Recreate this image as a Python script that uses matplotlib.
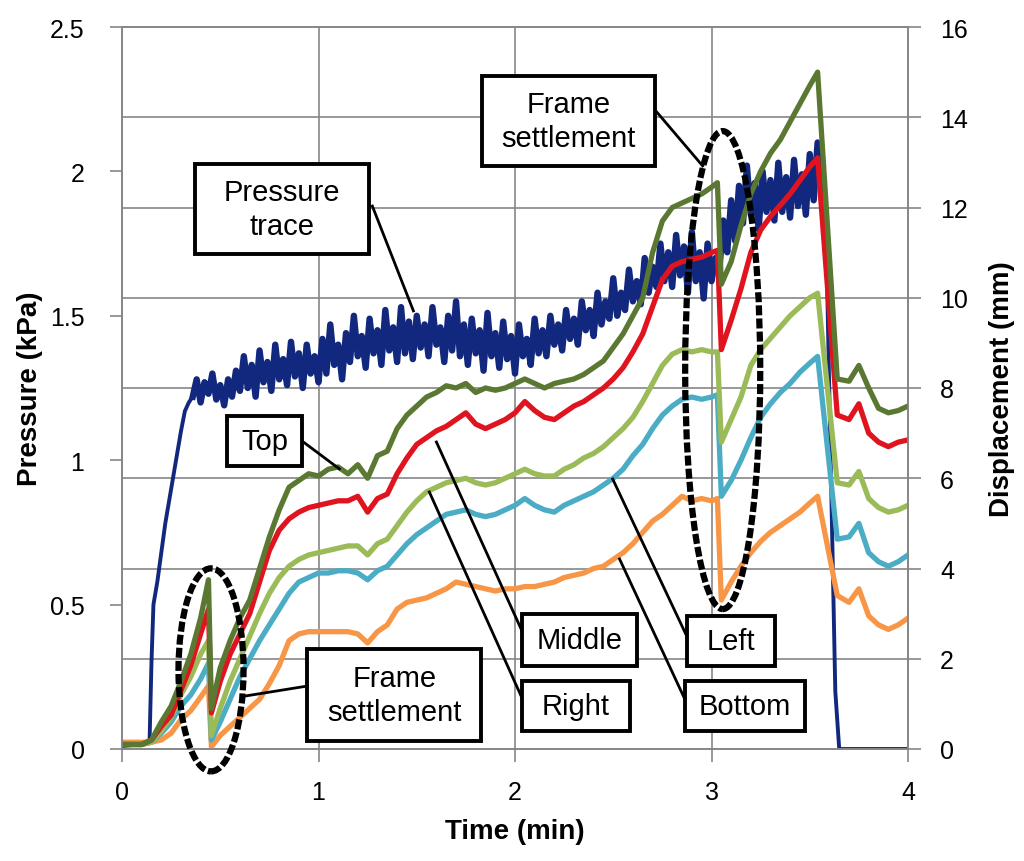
import numpy as np
import matplotlib
matplotlib.use("Agg")
import matplotlib.pyplot as plt
from matplotlib.patches import Ellipse, Rectangle

plt.rcParams['font.family'] = ['Liberation Sans', 'DejaVu Sans']

# displacement traces (mm)
t_disp = [0, 0.1, 0.15, 0.2, 0.25, 0.3, 0.35, 0.4, 0.44, 0.455,
          0.5, 0.55, 0.6, 0.65, 0.7, 0.75, 0.8, 0.85, 0.9, 0.95, 1.0,
          1.05, 1.1, 1.15, 1.2, 1.25, 1.3, 1.35, 1.4, 1.45, 1.5,
          1.55, 1.6, 1.65, 1.7, 1.75, 1.8, 1.85, 1.9, 1.95, 2.0,
          2.05, 2.1, 2.15, 2.2, 2.25, 2.3, 2.35, 2.4, 2.45, 2.5,
          2.55, 2.6, 2.65, 2.7, 2.75, 2.8, 2.85, 2.9, 2.95, 3.0,
          3.03, 3.05, 3.1, 3.15, 3.2, 3.25, 3.3, 3.35, 3.4, 3.45, 3.5,
          3.54, 3.64, 3.7, 3.75, 3.8, 3.85, 3.9, 3.95, 4.0]

top = [0.1, 0.1, 0.2, 0.6, 0.95, 1.5, 2.1, 2.9, 3.75, 0.9,
       1.8, 2.4, 2.9, 3.3, 4.0, 4.7, 5.3, 5.8, 5.95, 6.1, 6.05,
       6.2, 6.25, 6.1, 6.3, 6.0, 6.5, 6.6, 7.1, 7.4, 7.6,
       7.8, 7.9, 8.05, 8.0, 8.1, 7.9, 8.0, 7.95, 8.0, 8.1,
       8.2, 8.1, 8.0, 8.1, 8.15, 8.2, 8.3, 8.45, 8.6, 8.9,
       9.2, 9.6, 10.0, 11.0, 11.7, 12.0, 12.1, 12.2, 12.3, 12.45,
       12.55, 10.3, 10.8, 11.6, 12.3, 12.8, 13.2, 13.5, 13.9, 14.3, 14.7,
       15.0, 8.2, 8.15, 8.5, 8.0, 7.55, 7.45, 7.5, 7.6]

middle = [0.1, 0.1, 0.2, 0.5, 0.75, 1.3, 1.85, 2.55, 3.1, 0.8,
          1.5, 2.1, 2.55, 3.0, 3.7, 4.4, 4.85, 5.1, 5.25, 5.35, 5.4,
          5.45, 5.5, 5.5, 5.6, 5.25, 5.55, 5.65, 6.1, 6.45, 6.75,
          6.9, 7.05, 7.15, 7.3, 7.45, 7.2, 7.1, 7.2, 7.3, 7.45,
          7.7, 7.5, 7.35, 7.3, 7.45, 7.6, 7.7, 7.85, 8.0, 8.2,
          8.45, 8.8, 9.2, 9.8, 10.4, 10.7, 10.8, 10.85, 10.9, 11.0,
          11.05, 8.85, 9.5, 10.2, 11.0, 11.5, 11.8, 12.05, 12.3, 12.6, 12.9,
          13.1, 7.4, 7.3, 7.65, 7.0, 6.8, 6.7, 6.8, 6.85]

right = [0.1, 0.1, 0.15, 0.4, 0.7, 1.2, 1.6, 2.1, 2.4, 0.3,
         0.9, 1.5, 2.0, 2.5, 3.0, 3.45, 3.8, 4.05, 4.2, 4.3, 4.35,
         4.4, 4.45, 4.5, 4.5, 4.3, 4.55, 4.65, 4.95, 5.25, 5.5,
         5.7, 5.8, 5.9, 5.95, 6.0, 5.9, 5.85, 5.9, 6.0, 6.1,
         6.2, 6.1, 6.05, 6.05, 6.2, 6.3, 6.45, 6.55, 6.7, 6.9,
         7.1, 7.35, 7.7, 8.1, 8.5, 8.75, 8.85, 8.8, 8.85, 8.8,
         8.8, 6.8, 7.3, 7.8, 8.5, 8.85, 9.1, 9.35, 9.6, 9.8, 10.0,
         10.1, 5.9, 5.85, 6.15, 5.55, 5.35, 5.25, 5.3, 5.4]

left = [0.1, 0.1, 0.15, 0.35, 0.6, 0.95, 1.2, 1.55, 1.9, 0.2,
        0.6, 1.1, 1.6, 2.0, 2.4, 2.75, 3.1, 3.45, 3.7, 3.8, 3.9,
        3.9, 3.95, 3.95, 3.9, 3.75, 3.95, 4.05, 4.3, 4.55, 4.75,
        4.9, 5.05, 5.2, 5.25, 5.3, 5.2, 5.15, 5.2, 5.3, 5.4,
        5.55, 5.4, 5.3, 5.25, 5.4, 5.5, 5.6, 5.7, 5.85, 6.0,
        6.2, 6.5, 6.75, 7.1, 7.4, 7.6, 7.75, 7.8, 7.75, 7.8,
        7.85, 5.6, 5.95, 6.4, 6.9, 7.35, 7.65, 7.9, 8.1, 8.35, 8.55,
        8.7, 4.65, 4.7, 5.0, 4.35, 4.15, 4.05, 4.15, 4.3]

bottom = [0.15, 0.15, 0.15, 0.2, 0.35, 0.65, 0.85, 1.15, 1.4, 0.05,
          0.3, 0.5, 0.7, 0.9, 1.1, 1.45, 1.85, 2.4, 2.55, 2.6, 2.6,
          2.6, 2.6, 2.6, 2.55, 2.35, 2.6, 2.75, 3.1, 3.25, 3.3,
          3.35, 3.45, 3.55, 3.7, 3.65, 3.6, 3.55, 3.5, 3.55, 3.55,
          3.6, 3.6, 3.65, 3.7, 3.8, 3.85, 3.9, 4.0, 4.05, 4.2,
          4.35, 4.55, 4.8, 5.05, 5.2, 5.4, 5.6, 5.5, 5.55, 5.5,
          5.55, 3.3, 3.7, 4.05, 4.35, 4.6, 4.8, 4.95, 5.1, 5.25, 5.45,
          5.6, 3.4, 3.25, 3.55, 2.95, 2.75, 2.65, 2.75, 2.9]

# pressure trace (kPa)
t_p_start = [0, 0.14, 0.15, 0.16, 0.18, 0.20, 0.22, 0.25, 0.28, 0.30, 0.32, 0.34, 0.36]
p_start = [0.01, 0.02, 0.30, 0.50, 0.58, 0.68, 0.78, 0.90, 1.02, 1.10, 1.17, 1.20, 1.22]
# noisy part, one reading every 0.02 min from 0.36 to 3.56
p_noisy = [1.22, 1.28, 1.20, 1.27, 1.23, 1.30, 1.21, 1.26, 1.19, 1.28,
           1.22, 1.31, 1.24, 1.36, 1.25, 1.33, 1.22, 1.38, 1.27, 1.34,
           1.24, 1.40, 1.28, 1.35, 1.26, 1.41, 1.29, 1.37, 1.25, 1.40,
           1.30, 1.36, 1.27, 1.42, 1.30, 1.47, 1.33, 1.40, 1.28, 1.44,
           1.34, 1.50, 1.36, 1.43, 1.32, 1.49, 1.37, 1.45, 1.33, 1.52,
           1.38, 1.46, 1.34, 1.53, 1.37, 1.48, 1.35, 1.50, 1.39, 1.47,
           1.36, 1.53, 1.40, 1.46, 1.34, 1.50, 1.38, 1.55, 1.36, 1.47,
           1.33, 1.49, 1.37, 1.45, 1.31, 1.51, 1.36, 1.44, 1.32, 1.48,
           1.35, 1.43, 1.30, 1.47, 1.36, 1.42, 1.33, 1.49, 1.37, 1.45,
           1.36, 1.50, 1.40, 1.47, 1.38, 1.52, 1.42, 1.49, 1.40, 1.55,
           1.45, 1.52, 1.43, 1.58, 1.47, 1.55, 1.49, 1.63, 1.50, 1.58,
           1.52, 1.66, 1.55, 1.62, 1.54, 1.70, 1.58, 1.67, 1.60, 1.75,
           1.62, 1.72, 1.60, 1.78, 1.64, 1.74, 1.58, 1.79, 1.62, 1.72,
           1.56, 1.75, 1.62, 1.70, 1.66, 1.83, 1.72, 1.90, 1.76, 1.95,
           1.82, 2.02, 1.85, 1.96, 1.80, 2.00, 1.86, 1.97, 1.83, 2.03,
           1.86, 1.98, 1.84, 2.04, 1.88, 1.99, 1.85, 2.06, 1.90, 2.10,
           1.95]
t_p_end = [3.56, 3.58, 3.63, 3.65, 4.0]
p_end = [1.95, 1.90, 0.20, 0.0, 0.0]

t_noisy = np.round(np.linspace(0.36, 3.56, len(p_noisy)), 2)

grey = '#868686'
navy = '#12287e'

fig = plt.figure(figsize=(10.24, 8.62), dpi=100)
ax = fig.add_axes([122/1024, 1 - 750/862, 786/1024, 722/862])
ax2 = ax.twinx()

# grid: verticals every minute, horizontals at the right-axis ticks
for x in range(1, 4):
    ax.axvline(x, color=grey, lw=1.2, zorder=0)
for d in range(2, 16, 2):
    ax.axhline(d * 2.5 / 16, color=grey, lw=1.2, zorder=0)

ax.plot(t_p_start, p_start, color=navy, lw=2.8, zorder=2)
ax.plot(t_noisy, p_noisy, color=navy, lw=4.6, zorder=2)
ax.plot(t_p_end, p_end, color=navy, lw=2.8, zorder=2)

ax2.plot(t_disp, bottom, color='#f79646', lw=3.8)
ax2.plot(t_disp, left, color='#4bacc6', lw=3.8)
ax2.plot(t_disp, right, color='#9bbb59', lw=3.8)
ax2.plot(t_disp, middle, color='#e0141e', lw=3.8)
ax2.plot(t_disp, top, color='#5a7832', lw=3.8)

ax.set_xlim(0, 4)
ax.set_ylim(0, 2.5)
ax.set_xticks([0, 1, 2, 3, 4])
ax.set_yticks([0, 0.5, 1, 1.5, 2, 2.5])
ax.set_yticklabels(['0', '0.5', '1', '1.5', '2', '2.5'])
ax2.set_yticks(range(0, 17, 2))

for a in (ax, ax2):
    for s in a.spines.values():
        s.set_color(grey)
        s.set_linewidth(1.2)
ax.tick_params(axis='y', direction='out', length=9, width=1.2, color=grey,
               labelsize=18, pad=18)
ax.tick_params(axis='x', direction='out', length=9, width=1.2, color=grey,
               labelsize=18, pad=13)
ax2.tick_params(axis='y', direction='out', length=9, width=1.2, color=grey,
                labelsize=18, pad=14)

ax.set_xlabel('Time (min)', fontsize=20, fontweight='bold')
ax.set_ylabel('Pressure (kPa)', fontsize=20, fontweight='bold')
ax2.set_ylabel('Displacement (mm)', fontsize=20, fontweight='bold', rotation=90)
ax.xaxis.set_label_coords(0.5, -0.095)
ax.yaxis.set_label_coords(-0.1, 0.5)
ax2.yaxis.set_label_coords(1.103, 0.5)


def box(x0, x1, y0, y1, text):
    ax2.add_patch(Rectangle((x0, y0), x1 - x0, y1 - y0, transform=ax.transData,
                            fc='white', ec='black', lw=2.8, zorder=10))
    ax2.text((x0 + x1) / 2, (y0 + y1) / 2, text, transform=ax.transData,
             ha='center', va='center', fontsize=21, linespacing=1.3, zorder=11)


def leader(x0, y0, x1, y1):
    ax2.plot([x0, x1], [y0, y1], transform=ax.transData, color='black',
             lw=2.0, zorder=9)


leader(1.274, 1.880, 1.483, 1.517)
leader(2.721, 2.206, 2.955, 2.019)
leader(0.917, 1.066, 1.106, 0.970)
leader(1.600, 1.063, 2.038, 0.405)
leader(1.564, 0.890, 2.038, 0.173)
leader(2.497, 0.935, 2.874, 0.391)
leader(2.532, 0.658, 2.864, 0.173)
leader(0.632, 0.184, 0.943, 0.218)

for (cx, cy, w, h) in [(0.453, 0.274, 0.331, 0.703), (3.057, 1.312, 0.382, 1.655)]:
    ax2.add_patch(Ellipse((cx, cy), w, h, transform=ax.transData, fill=False,
                          ec='black', lw=4.5, ls=(0, (1.6, 0.5)), zorder=8,
                          clip_on=False))

box(0.372, 1.259, 1.714, 2.026, 'Pressure\ntrace')
box(1.834, 2.711, 2.019, 2.330, 'Frame\nsettlement')
box(0.535, 0.917, 0.980, 1.153, 'Top')
box(2.038, 2.619, 0.287, 0.467, 'Middle')
box(2.038, 2.583, 0.062, 0.235, 'Right')
box(2.874, 3.322, 0.287, 0.461, 'Left')
box(2.864, 3.475, 0.062, 0.235, 'Bottom')
box(0.943, 1.829, 0.028, 0.346, 'Frame\nsettlement')

ax2.set_ylim(0, 16)
ax.set_xlim(0, 4)

fig.savefig('out.png', dpi=100)
